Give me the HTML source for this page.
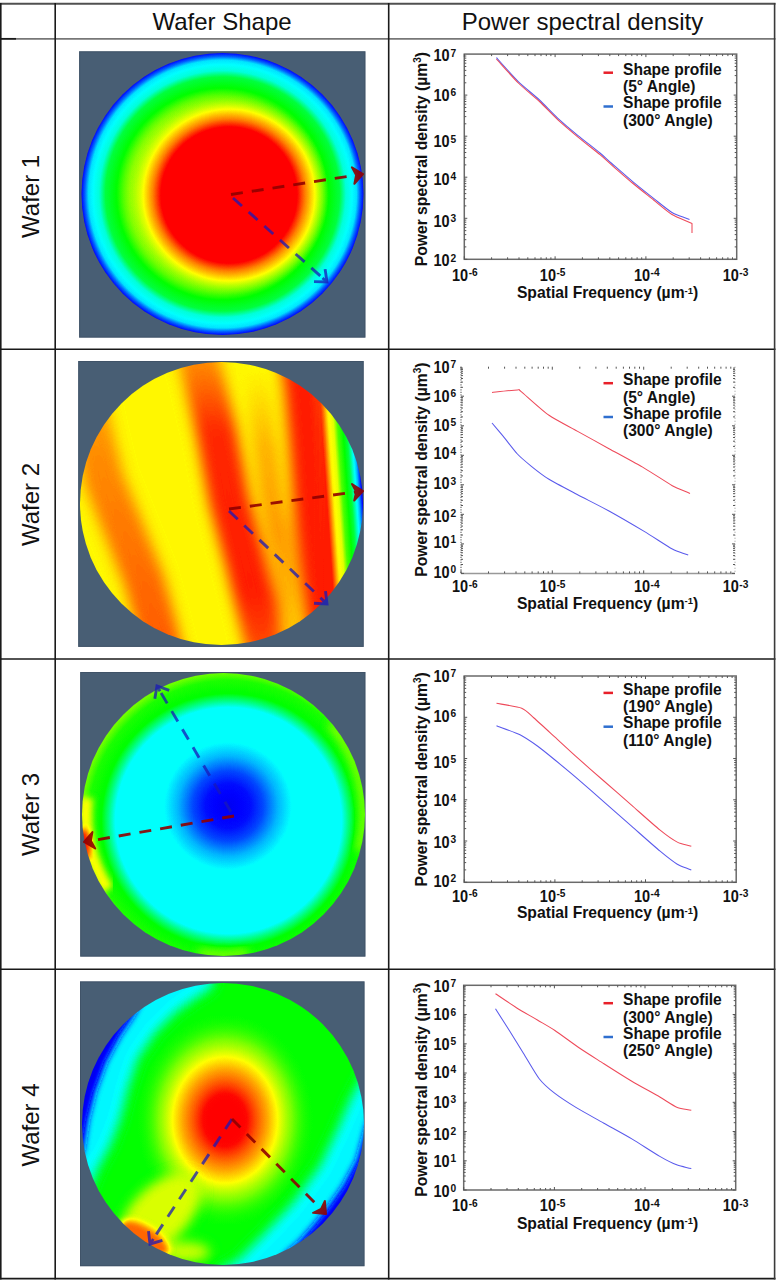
<!DOCTYPE html>
<html><head><meta charset="utf-8"><title>Wafer shape and PSD</title>
<style>html,body{margin:0;padding:0;background:#fff}svg{display:block}</style></head>
<body><svg width="778" height="1280" viewBox="0 0 778 1280" font-family='"Liberation Sans", sans-serif' fill="#111">
<defs><radialGradient id="f1" gradientUnits="userSpaceOnUse" cx="222.5" cy="194" r="141" ><stop offset="0.0000" stop-color="rgb(178,178,178)"/><stop offset="0.6000" stop-color="rgb(173,173,173)"/><stop offset="0.7000" stop-color="rgb(145,145,145)"/><stop offset="0.7500" stop-color="rgb(128,128,128)"/><stop offset="0.8300" stop-color="rgb(115,115,115)"/><stop offset="0.8750" stop-color="rgb(84,84,84)"/><stop offset="0.9500" stop-color="rgb(71,71,71)"/><stop offset="0.9750" stop-color="rgb(46,46,46)"/><stop offset="1.0000" stop-color="rgb(26,26,26)"/></radialGradient><radialGradient id="f1b" gradientUnits="userSpaceOnUse" cx="229" cy="195" r="100" ><stop offset="0.0000" stop-color="rgb(235,235,235)" stop-opacity="1"/><stop offset="0.6800" stop-color="rgb(230,230,230)" stop-opacity="1"/><stop offset="0.7600" stop-color="rgb(204,204,204)" stop-opacity="1"/><stop offset="0.8600" stop-color="rgb(178,178,178)" stop-opacity="1"/><stop offset="0.9300" stop-color="rgb(161,161,161)" stop-opacity="0.6"/><stop offset="1.0000" stop-color="rgb(145,145,145)" stop-opacity="0"/></radialGradient><filter id="jet1" x="0" y="0" width="1" height="1" color-interpolation-filters="sRGB"><feComponentTransfer><feFuncR type="table" tableValues="0 0 0 0 0 0 0.5 1 1 1 1"/><feFuncG type="table" tableValues="0 0 0.5 1 1 1 1 1 0.5 0 0"/><feFuncB type="table" tableValues="0.6 1 1 1 0.5 0 0 0 0 0 0"/></feComponentTransfer></filter><clipPath id="clip1"><circle cx="222.5" cy="194" r="141"/></clipPath><linearGradient id="f2" gradientUnits="userSpaceOnUse" x1="80" y1="503" x2="356.9110764430577" y2="458.69422776911074"><stop offset="0.0000" stop-color="rgb(191,191,191)"/><stop offset="0.0423" stop-color="rgb(199,199,199)"/><stop offset="0.0880" stop-color="rgb(204,204,204)"/><stop offset="0.1585" stop-color="rgb(204,204,204)"/><stop offset="0.1972" stop-color="rgb(196,196,196)"/><stop offset="0.2324" stop-color="rgb(184,184,184)"/><stop offset="0.2535" stop-color="rgb(178,178,178)"/><stop offset="0.3239" stop-color="rgb(178,178,178)"/><stop offset="0.4155" stop-color="rgb(181,181,181)"/><stop offset="0.4577" stop-color="rgb(204,204,204)"/><stop offset="0.5070" stop-color="rgb(224,224,224)"/><stop offset="0.5634" stop-color="rgb(222,222,222)"/><stop offset="0.6127" stop-color="rgb(201,201,201)"/><stop offset="0.6620" stop-color="rgb(190,190,190)"/><stop offset="0.7113" stop-color="rgb(199,199,199)"/><stop offset="0.7676" stop-color="rgb(219,219,219)"/><stop offset="0.8345" stop-color="rgb(224,224,224)"/><stop offset="1.0000" stop-color="rgb(224,224,224)"/></linearGradient><linearGradient id="f2r" gradientUnits="userSpaceOnUse" x1="304" y1="503" x2="363.70743357548014" y2="498.8204796497164"><stop offset="0.0000" stop-color="rgb(224,224,224)"/><stop offset="0.3833" stop-color="rgb(224,224,224)"/><stop offset="0.4500" stop-color="rgb(199,199,199)"/><stop offset="0.5000" stop-color="rgb(181,181,181)"/><stop offset="0.5833" stop-color="rgb(173,173,173)"/><stop offset="0.6500" stop-color="rgb(143,143,143)"/><stop offset="0.7333" stop-color="rgb(128,128,128)"/><stop offset="0.8000" stop-color="rgb(115,115,115)"/><stop offset="0.8667" stop-color="rgb(82,82,82)"/><stop offset="0.9167" stop-color="rgb(64,64,64)"/><stop offset="0.9667" stop-color="rgb(31,31,31)"/><stop offset="1.0167" stop-color="rgb(13,13,13)"/></linearGradient><linearGradient id="m2rg" gradientUnits="userSpaceOnUse" x1="312" y1="0" x2="326" y2="0"><stop offset="0" stop-color="#000"/><stop offset="1" stop-color="#fff"/></linearGradient><mask id="m2r" maskUnits="userSpaceOnUse" x="300" y="350" width="90" height="310"><rect x="300" y="350" width="90" height="310" fill="url(#m2rg)"/></mask><linearGradient id="g2A" gradientUnits="userSpaceOnUse" x1="0" y1="360" x2="0" y2="650"><stop offset="0.000" stop-color="rgb(196,196,196)"/><stop offset="0.500" stop-color="rgb(204,204,204)"/><stop offset="1.000" stop-color="rgb(212,212,212)"/></linearGradient><linearGradient id="g2C" gradientUnits="userSpaceOnUse" x1="0" y1="360" x2="0" y2="650"><stop offset="0.000" stop-color="rgb(201,201,201)"/><stop offset="0.250" stop-color="rgb(222,222,222)"/><stop offset="0.800" stop-color="rgb(224,224,224)"/><stop offset="1.000" stop-color="rgb(214,214,214)"/></linearGradient><linearGradient id="g2D" gradientUnits="userSpaceOnUse" x1="0" y1="360" x2="0" y2="650"><stop offset="0.000" stop-color="rgb(178,178,178)"/><stop offset="0.300" stop-color="rgb(194,194,194)"/><stop offset="0.600" stop-color="rgb(199,199,199)"/><stop offset="1.000" stop-color="rgb(189,189,189)"/></linearGradient><filter id="blur7" x="-30%" y="-30%" width="160%" height="160%"><feGaussianBlur stdDeviation="7"/></filter><filter id="blur3" x="-20%" y="-20%" width="140%" height="140%"><feGaussianBlur stdDeviation="3"/></filter><filter id="blur6" x="-30%" y="-30%" width="160%" height="160%"><feGaussianBlur stdDeviation="6"/></filter><filter id="blur10" x="-30%" y="-30%" width="160%" height="160%"><feGaussianBlur stdDeviation="10"/></filter><filter id="jet2" x="0" y="0" width="1" height="1" color-interpolation-filters="sRGB"><feComponentTransfer><feFuncR type="table" tableValues="0 0 0 0 0 0 0.5 1 1 1 1"/><feFuncG type="table" tableValues="0 0 0.5 1 1 1 1 1 0.5 0 0"/><feFuncB type="table" tableValues="0.6 1 1 1 0.5 0 0 0 0 0 0"/></feComponentTransfer></filter><clipPath id="clip2"><circle cx="221.5" cy="503.5" r="141.5"/></clipPath><radialGradient id="f3rim" gradientUnits="userSpaceOnUse" cx="228.5" cy="820.5" r="148">
<stop offset="0" stop-color="rgb(77,77,77)"/>
<stop offset="0.765" stop-color="rgb(77,77,77)"/>
<stop offset="0.81" stop-color="rgb(102,102,102)"/>
<stop offset="0.858" stop-color="rgb(127,127,127)"/>
<stop offset="0.946" stop-color="rgb(133,133,133)"/>
<stop offset="1" stop-color="rgb(150,150,150)"/>
</radialGradient><radialGradient id="f3c" gradientUnits="userSpaceOnUse" cx="228" cy="806" r="64">
<stop offset="0" stop-color="rgb(22,22,22)"/>
<stop offset="0.35" stop-color="rgb(28,28,28)"/>
<stop offset="0.55" stop-color="rgb(40,40,40)"/>
<stop offset="0.78" stop-color="rgb(62,62,62)"/>
<stop offset="1" stop-color="rgb(77,77,77)"/>
</radialGradient><filter id="jet3" x="0" y="0" width="1" height="1" color-interpolation-filters="sRGB"><feComponentTransfer><feFuncR type="table" tableValues="0 0 0 0 0 0 0.5 1 1 1 1"/><feFuncG type="table" tableValues="0 0 0.5 1 1 1 1 1 0.5 0 0"/><feFuncB type="table" tableValues="0.6 1 1 1 0.5 0 0 0 0 0 0"/></feComponentTransfer></filter><clipPath id="clip3"><circle cx="223.5" cy="814.5" r="141.5"/></clipPath><radialGradient id="f4c" gradientUnits="userSpaceOnUse" cx="225" cy="1120" r="88" gradientTransform="translate(225 1120) scale(1 1.2) translate(-225 -1120)">
<stop offset="0" stop-color="rgb(235,235,235)"/>
<stop offset="0.25" stop-color="rgb(228,228,228)"/>
<stop offset="0.36" stop-color="rgb(212,212,212)"/>
<stop offset="0.48" stop-color="rgb(196,196,196)"/>
<stop offset="0.60" stop-color="rgb(178,178,178)"/>
<stop offset="0.76" stop-color="rgb(156,156,156)" stop-opacity="0.85"/>
<stop offset="0.92" stop-color="rgb(140,140,140)" stop-opacity="0.3"/>
<stop offset="1" stop-color="rgb(135,135,135)" stop-opacity="0"/>
</radialGradient><filter id="blur8" x="-30%" y="-30%" width="160%" height="160%"><feGaussianBlur stdDeviation="8"/></filter><filter id="blur4" x="-30%" y="-30%" width="160%" height="160%"><feGaussianBlur stdDeviation="4"/></filter><filter id="jet4" x="0" y="0" width="1" height="1" color-interpolation-filters="sRGB"><feComponentTransfer><feFuncR type="table" tableValues="0 0 0 0 0 0 0.5 1 1 1 1"/><feFuncG type="table" tableValues="0 0 0.5 1 1 1 1 1 0.5 0 0"/><feFuncB type="table" tableValues="0.6 1 1 1 0.5 0 0 0 0 0 0"/></feComponentTransfer></filter><clipPath id="clip4"><circle cx="223" cy="1124" r="141"/></clipPath></defs>
<rect x="79.1" y="51.3" width="286.3" height="286.3" fill="#485e74"/><rect x="79.6" y="51.8" width="285.3" height="285.3" fill="none" stroke="#3c4c60" stroke-width="1" opacity="0.6"/><g clip-path="url(#clip1)"><g filter="url(#jet1)"><rect x="70" y="40" width="310" height="310" fill="url(#f1)"/><circle cx="229" cy="195" r="100" fill="url(#f1b)"/></g></g><g opacity="0.9"><line x1="231" y1="194.5" x2="360.0" y2="174.5" stroke="rgb(145,0,0)" stroke-width="2.9" stroke-dasharray="12 9"/><path d="M354.4,183.8 L363,174 L351.9,167.3 L356.1,175.1 Z" fill="rgb(145,0,0)" stroke="rgb(145,0,0)" stroke-width="2" stroke-linejoin="round"/></g><g opacity="0.75"><line x1="233" y1="198" x2="324.8" y2="280.0" stroke="rgb(25,25,185)" stroke-width="2.9" stroke-dasharray="12 9"/><polyline points="314.0,281.6 327,282 325.1,269.1" fill="none" stroke="rgb(25,25,185)" stroke-width="2.9" stroke-linejoin="miter"/><line x1="322.5" y1="278.0" x2="325.9" y2="281.0" stroke="rgb(25,25,185)" stroke-width="2.9"/></g><rect x="78.2" y="361" width="285.5" height="285.9" fill="#485e74"/><rect x="78.7" y="361.5" width="284.5" height="284.9" fill="none" stroke="#3c4c60" stroke-width="1" opacity="0.6"/><g clip-path="url(#clip2)"><g filter="url(#jet2)"><rect x="70" y="350" width="310" height="310" fill="rgb(180,180,180)"/><g filter="url(#blur7)"><path d="M82,380 L92,430 L104,480 L124,530 L144,580 L155,620 L165,660" stroke="url(#g2A)" stroke-width="40" fill="none"/><path d="M195,345 L204,380 L216,430 L229,500 L245,560 L262,630 L268,660" stroke="url(#g2C)" stroke-width="40" fill="none"/><path d="M256,345 L262,420 L272,500 L284,560 L292,640" stroke="url(#g2D)" stroke-width="24" fill="none"/><path d="M298,345 L304,390 L309,450 L314,520 L321,580 L330,650" stroke="rgb(224,224,224)" stroke-width="38" fill="none"/></g><rect x="300" y="350" width="90" height="310" fill="url(#f2r)" mask="url(#m2r)"/></g></g><g opacity="0.9"><line x1="229" y1="509" x2="360.0" y2="491.4" stroke="rgb(145,0,0)" stroke-width="2.9" stroke-dasharray="12 9"/><path d="M354.2,500.6 L363,491 L352.0,484.0 L356.1,491.9 Z" fill="rgb(145,0,0)" stroke="rgb(145,0,0)" stroke-width="2" stroke-linejoin="round"/></g><g opacity="0.75"><line x1="229" y1="511" x2="324.8" y2="601.9" stroke="rgb(25,25,185)" stroke-width="2.9" stroke-dasharray="12 9"/><polyline points="314.0,603.2 327,604 325.5,591.1" fill="none" stroke="rgb(25,25,185)" stroke-width="2.9" stroke-linejoin="miter"/><line x1="322.6" y1="599.9" x2="325.9" y2="603.0" stroke="rgb(25,25,185)" stroke-width="2.9"/></g><rect x="80.2" y="672" width="285.2" height="284.6" fill="#485e74"/><rect x="80.7" y="672.5" width="284.2" height="283.6" fill="none" stroke="#3c4c60" stroke-width="1" opacity="0.6"/><g clip-path="url(#clip3)"><g filter="url(#jet3)"><rect x="70" y="660" width="310" height="310" fill="url(#f3rim)"/><circle cx="228" cy="806" r="64" fill="url(#f3c)"/><g filter="url(#blur3)"><path d="M107.8,889.7 A138,138 0 0 1 86.5,797.7" stroke="rgb(178,178,178)" stroke-width="13" fill="none"/></g><g filter="url(#blur4)"><path d="M330.7,724.5 A140,140 0 0 1 358.7,850.7" stroke="rgb(161,161,161)" stroke-width="6" fill="none"/><path d="M247.8,952.4 A140,140 0 0 1 199.2,952.4" stroke="rgb(161,161,161)" stroke-width="6" fill="none"/></g><g filter="url(#blur3)"><ellipse cx="83" cy="846" rx="7" ry="17" fill="rgb(230,230,230)"/></g></g></g><g opacity="0.75"><line x1="231" y1="812" x2="158.5" y2="688.6" stroke="rgb(25,25,185)" stroke-width="2.9" stroke-dasharray="12 9"/><polyline points="169.2,690.4 157,686 154.8,698.8" fill="none" stroke="rgb(25,25,185)" stroke-width="2.9" stroke-linejoin="miter"/><line x1="160.0" y1="691.2" x2="157.8" y2="687.3" stroke="rgb(25,25,185)" stroke-width="2.9"/></g><g opacity="0.9"><line x1="234" y1="816" x2="87.0" y2="841.5" stroke="rgb(145,0,0)" stroke-width="2.9" stroke-dasharray="12 9"/><path d="M92.4,832.1 L84,842 L95.2,848.5 L90.9,840.8 Z" fill="rgb(145,0,0)" stroke="rgb(145,0,0)" stroke-width="2" stroke-linejoin="round"/></g><rect x="80" y="981.4" width="284.5" height="284.8" fill="#485e74"/><rect x="80.5" y="981.9" width="283.5" height="283.8" fill="none" stroke="#3c4c60" stroke-width="1" opacity="0.6"/><g clip-path="url(#clip4)"><g filter="url(#jet4)"><rect x="70" y="970" width="310" height="310" fill="rgb(128,128,128)"/><g filter="url(#blur6)"><path d="M88.0,1192.0 L98.0,1168.0 L110.0,1146.0 L120.0,1120.0 L128.0,1088.0 L138.0,1058.0 L156.0,1032.0 L176.0,1012.0 L196.0,998.0 L212.0,988.0 L216.9,949.1 L187.1,952.7 L158.4,961.4 L131.6,974.8 L107.4,992.6 L86.7,1014.3 L69.9,1039.2 L57.7,1066.5 L50.3,1095.6 L48.0,1125.5 L50.8,1155.4 L58.7,1184.3 L71.4,1211.5 Z" fill="rgb(76,76,76)"/><path d="M366.0,1070.0 L350.0,1100.0 L338.0,1128.0 L320.0,1166.0 L292.0,1204.0 L262.0,1236.0 L238.0,1260.0 L215.0,1272.0 L238.3,1298.3 L267.1,1293.4 L294.6,1283.7 L320.2,1269.5 L343.1,1251.3 L362.6,1229.5 L378.2,1204.8 L389.5,1177.8 L396.2,1149.4 L398.0,1120.2 L394.9,1091.1 L387.0,1063.0 L374.6,1036.5 Z" fill="rgb(76,76,76)"/></g><ellipse cx="225" cy="1120" rx="90" ry="108" fill="url(#f4c)"/><g filter="url(#blur6)"><ellipse cx="160" cy="1214" rx="50" ry="28" fill="rgb(171,171,171)" transform="rotate(-45 160 1214)"/><ellipse cx="185" cy="1252" rx="25" ry="10" fill="rgb(168,168,168)"/></g><g filter="url(#blur3)"><path d="M83.0,1152.0 L88.0,1120.0 L95.0,1092.0 L106.0,1062.0 L120.0,1036.0 L134.0,1015.0 L163.1,959.6 L142.2,968.8 L122.6,980.6 L104.8,995.0 L88.9,1011.5 L75.4,1030.0 L64.4,1050.0 L56.1,1071.4 L50.7,1093.6 L48.2,1116.4 L48.7,1139.3 L52.1,1161.9 L58.6,1183.9 Z" fill="rgb(20,20,20)"/><path d="M368.0,1120.0 L357.0,1160.0 L343.0,1186.0 L329.0,1206.0 L313.0,1226.0 L299.0,1242.0 L285.0,1254.0 L268.3,1293.0 L286.4,1287.1 L303.8,1279.2 L320.2,1269.5 L335.5,1258.1 L349.4,1245.0 L361.8,1230.5 L372.6,1214.8 L381.6,1198.0 L388.7,1180.3 L393.9,1161.9 L397.0,1143.1 L398.0,1124.0 Z" fill="rgb(20,20,20)"/><ellipse cx="145" cy="1238" rx="28" ry="11" fill="rgb(209,209,209)" transform="rotate(33 145 1238)"/></g></g></g><g opacity="0.75"><line x1="232" y1="1119" x2="151.6" y2="1241.5" stroke="rgb(25,25,185)" stroke-width="2.9" stroke-dasharray="12 9"/><polyline points="148.5,1231.1 150,1244 162.4,1240.3" fill="none" stroke="rgb(25,25,185)" stroke-width="2.9" stroke-linejoin="miter"/><line x1="153.3" y1="1239.0" x2="150.8" y2="1242.7" stroke="rgb(25,25,185)" stroke-width="2.9"/></g><g opacity="0.9"><line x1="232" y1="1119" x2="323.9" y2="1211.9" stroke="rgb(145,0,0)" stroke-width="2.9" stroke-dasharray="12 9"/><path d="M313.1,1212.8 L326,1214 L324.9,1201.0 L321.1,1209.0 Z" fill="rgb(145,0,0)" stroke="rgb(145,0,0)" stroke-width="2" stroke-linejoin="round"/></g><rect x="464.3" y="54.1" width="272.40000000000003" height="205.20000000000002" fill="none" stroke="#6a6a6a" stroke-width="1.5"/><path d="M464.3,259.3v-3M464.3,54.1v3M491.6,259.3v-2M491.6,54.1v2M507.6,259.3v-2M507.6,54.1v2M519.0,259.3v-2M519.0,54.1v2M527.8,259.3v-2M527.8,54.1v2M535.0,259.3v-2M535.0,54.1v2M541.0,259.3v-2M541.0,54.1v2M546.3,259.3v-2M546.3,54.1v2M550.9,259.3v-2M550.9,54.1v2M555.1,259.3v-3M555.1,54.1v3M582.4,259.3v-2M582.4,54.1v2M598.4,259.3v-2M598.4,54.1v2M609.8,259.3v-2M609.8,54.1v2M618.6,259.3v-2M618.6,54.1v2M625.8,259.3v-2M625.8,54.1v2M631.8,259.3v-2M631.8,54.1v2M637.1,259.3v-2M637.1,54.1v2M641.7,259.3v-2M641.7,54.1v2M645.9,259.3v-3M645.9,54.1v3M673.2,259.3v-2M673.2,54.1v2M689.2,259.3v-2M689.2,54.1v2M700.6,259.3v-2M700.6,54.1v2M709.4,259.3v-2M709.4,54.1v2M716.6,259.3v-2M716.6,54.1v2M722.6,259.3v-2M722.6,54.1v2M727.9,259.3v-2M727.9,54.1v2M732.5,259.3v-2M732.5,54.1v2M464.3,259.3h3M736.7,259.3h-3M464.3,246.9h2M736.7,246.9h-2M464.3,239.7h2M736.7,239.7h-2M464.3,234.6h2M736.7,234.6h-2M464.3,230.6h2M736.7,230.6h-2M464.3,227.4h2M736.7,227.4h-2M464.3,224.6h2M736.7,224.6h-2M464.3,222.2h2M736.7,222.2h-2M464.3,220.1h2M736.7,220.1h-2M464.3,218.3h3M736.7,218.3h-3M464.3,205.9h2M736.7,205.9h-2M464.3,198.7h2M736.7,198.7h-2M464.3,193.6h2M736.7,193.6h-2M464.3,189.6h2M736.7,189.6h-2M464.3,186.3h2M736.7,186.3h-2M464.3,183.6h2M736.7,183.6h-2M464.3,181.2h2M736.7,181.2h-2M464.3,179.1h2M736.7,179.1h-2M464.3,177.2h3M736.7,177.2h-3M464.3,164.9h2M736.7,164.9h-2M464.3,157.6h2M736.7,157.6h-2M464.3,152.5h2M736.7,152.5h-2M464.3,148.5h2M736.7,148.5h-2M464.3,145.3h2M736.7,145.3h-2M464.3,142.5h2M736.7,142.5h-2M464.3,140.2h2M736.7,140.2h-2M464.3,138.1h2M736.7,138.1h-2M464.3,136.2h3M736.7,136.2h-3M464.3,123.8h2M736.7,123.8h-2M464.3,116.6h2M736.7,116.6h-2M464.3,111.5h2M736.7,111.5h-2M464.3,107.5h2M736.7,107.5h-2M464.3,104.2h2M736.7,104.2h-2M464.3,101.5h2M736.7,101.5h-2M464.3,99.1h2M736.7,99.1h-2M464.3,97.0h2M736.7,97.0h-2M464.3,95.1h3M736.7,95.1h-3M464.3,82.8h2M736.7,82.8h-2M464.3,75.6h2M736.7,75.6h-2M464.3,70.4h2M736.7,70.4h-2M464.3,66.5h2M736.7,66.5h-2M464.3,63.2h2M736.7,63.2h-2M464.3,60.5h2M736.7,60.5h-2M464.3,58.1h2M736.7,58.1h-2M464.3,56.0h2M736.7,56.0h-2" stroke="#555" stroke-width="1"/><text transform="translate(456.3,266.2) scale(1,1.1)" text-anchor="end" font-weight="bold" font-size="14.5"><tspan>10</tspan><tspan font-size="10.2" dx="1" dy="-4.2">2</tspan></text><text transform="translate(456.3,226.8) scale(1,1.1)" text-anchor="end" font-weight="bold" font-size="14.5"><tspan>10</tspan><tspan font-size="10.2" dx="1" dy="-4.2">3</tspan></text><text transform="translate(456.3,184.7) scale(1,1.1)" text-anchor="end" font-weight="bold" font-size="14.5"><tspan>10</tspan><tspan font-size="10.2" dx="1" dy="-4.2">4</tspan></text><text transform="translate(456.3,147.2) scale(1,1.1)" text-anchor="end" font-weight="bold" font-size="14.5"><tspan>10</tspan><tspan font-size="10.2" dx="1" dy="-4.2">5</tspan></text><text transform="translate(456.3,101.1) scale(1,1.1)" text-anchor="end" font-weight="bold" font-size="14.5"><tspan>10</tspan><tspan font-size="10.2" dx="1" dy="-4.2">6</tspan></text><text transform="translate(456.3,61.2) scale(1,1.1)" text-anchor="end" font-weight="bold" font-size="14.5"><tspan>10</tspan><tspan font-size="10.2" dx="1" dy="-4.2">7</tspan></text><text transform="translate(464.9,280.9) scale(1,1.1)" text-anchor="middle" font-weight="bold" font-size="14.5"><tspan>10</tspan><tspan font-size="10.2" dx="0.5" dy="-4.2">-6</tspan></text><text transform="translate(552.7,280.9) scale(1,1.1)" text-anchor="middle" font-weight="bold" font-size="14.5"><tspan>10</tspan><tspan font-size="10.2" dx="0.5" dy="-4.2">-5</tspan></text><text transform="translate(646.8,280.9) scale(1,1.1)" text-anchor="middle" font-weight="bold" font-size="14.5"><tspan>10</tspan><tspan font-size="10.2" dx="0.5" dy="-4.2">-4</tspan></text><text transform="translate(735.5,280.9) scale(1,1.1)" text-anchor="middle" font-weight="bold" font-size="14.5"><tspan>10</tspan><tspan font-size="10.2" dx="0.5" dy="-4.2">-3</tspan></text><text x="607.6" y="298.2" text-anchor="middle" font-weight="bold" font-size="15.7">Spatial Frequency (µm<tspan font-size="9.5" dy="-4.5">-1</tspan><tspan dy="4.5">)</tspan></text><text transform="translate(426.8,159.2) rotate(-90)" text-anchor="middle" font-weight="bold" font-size="15.7">Power spectral density (µm<tspan font-size="10" dy="-5.5">3</tspan><tspan dy="5.5">)</tspan></text><path d="M496.4,57.6 C499.0,60.4 513.3,76.7 518.3,81.6 C523.3,86.5 534.9,95.7 539.5,100.0 C544.1,104.3 553.4,114.2 557.9,118.3 C562.4,122.4 572.8,131.3 577.7,135.3 C582.6,139.3 596.1,149.8 600.0,153.0 C603.9,156.2 607.4,159.7 611.2,163.0 C615.0,166.3 627.5,177.3 632.4,181.4 C637.3,185.5 649.0,194.8 653.6,198.4 C658.2,202.0 667.8,210.0 672.0,212.5 C676.2,215.0 683.7,217.2 689.5,219.6" fill="none" stroke="#5a5aec" stroke-width="1.05" stroke-linejoin="round"/><path d="M496.4,59.0 C499.0,61.8 513.3,78.0 518.3,83.0 C523.3,88.0 534.9,97.2 539.5,101.5 C544.1,105.8 553.4,115.7 557.9,119.8 C562.4,123.9 572.8,132.7 577.7,136.8 C582.6,140.9 596.1,151.4 600.0,154.6 C603.9,157.8 607.4,161.3 611.2,164.6 C615.0,167.9 627.5,178.9 632.4,183.0 C637.3,187.1 649.0,196.3 653.6,200.0 C658.2,203.7 667.5,211.8 672.0,214.5 C676.5,217.2 685.3,220.5 692.0,223.5 L692.0,233.0" fill="none" stroke="#ee4a5a" stroke-width="1.05" stroke-linejoin="round"/><line x1="603.5" y1="72.7" x2="613" y2="72.7" stroke="#e8202a" stroke-width="2.5"/><text x="623" y="74.7" font-weight="bold" font-size="15.6">Shape profile</text><text x="623" y="92.0" font-weight="bold" font-size="15.6">(5° Angle)</text><line x1="603.5" y1="106.5" x2="613" y2="106.5" stroke="#2f6fcf" stroke-width="2.5"/><text x="623" y="108.1" font-weight="bold" font-size="15.6">Shape profile</text><text x="623" y="125.7" font-weight="bold" font-size="15.6">(300° Angle)</text><line x1="461" y1="573.4" x2="735" y2="573.4" stroke="#999" stroke-width="1.5"/><line x1="461" y1="366.7" x2="461" y2="573.4" stroke="#777" stroke-width="1.3" stroke-dasharray="1.2 1.3"/><line x1="735" y1="366.7" x2="735" y2="573.4" stroke="#aaa" stroke-width="1.2" stroke-dasharray="1 2"/><path d="M461.0,573.4v-3M461.0,366.7v3M488.5,573.4v-2M488.5,366.7v2M504.6,573.4v-2M504.6,366.7v2M516.0,573.4v-2M516.0,366.7v2M524.8,573.4v-2M524.8,366.7v2M532.1,573.4v-2M532.1,366.7v2M538.2,573.4v-2M538.2,366.7v2M543.5,573.4v-2M543.5,366.7v2M548.2,573.4v-2M548.2,366.7v2M552.3,573.4v-3M552.3,366.7v3M579.8,573.4v-2M579.8,366.7v2M595.9,573.4v-2M595.9,366.7v2M607.3,573.4v-2M607.3,366.7v2M616.2,573.4v-2M616.2,366.7v2M623.4,573.4v-2M623.4,366.7v2M629.5,573.4v-2M629.5,366.7v2M634.8,573.4v-2M634.8,366.7v2M639.5,573.4v-2M639.5,366.7v2M643.7,573.4v-3M643.7,366.7v3M671.2,573.4v-2M671.2,366.7v2M687.2,573.4v-2M687.2,366.7v2M698.7,573.4v-2M698.7,366.7v2M707.5,573.4v-2M707.5,366.7v2M714.7,573.4v-2M714.7,366.7v2M720.9,573.4v-2M720.9,366.7v2M726.1,573.4v-2M726.1,366.7v2M730.8,573.4v-2M730.8,366.7v2M461,573.4h3M735,573.4h-3M461,564.5h2M735,564.5h-2M461,559.3h2M735,559.3h-2M461,555.6h2M735,555.6h-2M461,552.8h2M735,552.8h-2M461,550.4h2M735,550.4h-2M461,548.4h2M735,548.4h-2M461,546.7h2M735,546.7h-2M461,545.2h2M735,545.2h-2M461,543.9h3M735,543.9h-3M461,535.0h2M735,535.0h-2M461,529.8h2M735,529.8h-2M461,526.1h2M735,526.1h-2M461,523.2h2M735,523.2h-2M461,520.9h2M735,520.9h-2M461,518.9h2M735,518.9h-2M461,517.2h2M735,517.2h-2M461,515.7h2M735,515.7h-2M461,514.3h3M735,514.3h-3M461,505.5h2M735,505.5h-2M461,500.3h2M735,500.3h-2M461,496.6h2M735,496.6h-2M461,493.7h2M735,493.7h-2M461,491.4h2M735,491.4h-2M461,489.4h2M735,489.4h-2M461,487.7h2M735,487.7h-2M461,486.2h2M735,486.2h-2M461,484.8h3M735,484.8h-3M461,475.9h2M735,475.9h-2M461,470.7h2M735,470.7h-2M461,467.0h2M735,467.0h-2M461,464.2h2M735,464.2h-2M461,461.8h2M735,461.8h-2M461,459.9h2M735,459.9h-2M461,458.1h2M735,458.1h-2M461,456.6h2M735,456.6h-2M461,455.3h3M735,455.3h-3M461,446.4h2M735,446.4h-2M461,441.2h2M735,441.2h-2M461,437.5h2M735,437.5h-2M461,434.6h2M735,434.6h-2M461,432.3h2M735,432.3h-2M461,430.3h2M735,430.3h-2M461,428.6h2M735,428.6h-2M461,427.1h2M735,427.1h-2M461,425.8h3M735,425.8h-3M461,416.9h2M735,416.9h-2M461,411.7h2M735,411.7h-2M461,408.0h2M735,408.0h-2M461,405.1h2M735,405.1h-2M461,402.8h2M735,402.8h-2M461,400.8h2M735,400.8h-2M461,399.1h2M735,399.1h-2M461,397.6h2M735,397.6h-2M461,396.2h3M735,396.2h-3M461,387.3h2M735,387.3h-2M461,382.1h2M735,382.1h-2M461,378.5h2M735,378.5h-2M461,375.6h2M735,375.6h-2M461,373.3h2M735,373.3h-2M461,371.3h2M735,371.3h-2M461,369.6h2M735,369.6h-2M461,368.1h2M735,368.1h-2" stroke="#555" stroke-width="1"/><text transform="translate(456.3,578.1) scale(1,1.1)" text-anchor="end" font-weight="bold" font-size="14.5"><tspan>10</tspan><tspan font-size="10.2" dx="1" dy="-4.2">0</tspan></text><text transform="translate(456.3,548.1) scale(1,1.1)" text-anchor="end" font-weight="bold" font-size="14.5"><tspan>10</tspan><tspan font-size="10.2" dx="1" dy="-4.2">1</tspan></text><text transform="translate(456.3,521.5) scale(1,1.1)" text-anchor="end" font-weight="bold" font-size="14.5"><tspan>10</tspan><tspan font-size="10.2" dx="1" dy="-4.2">2</tspan></text><text transform="translate(456.3,489.2) scale(1,1.1)" text-anchor="end" font-weight="bold" font-size="14.5"><tspan>10</tspan><tspan font-size="10.2" dx="1" dy="-4.2">3</tspan></text><text transform="translate(456.3,459.4) scale(1,1.1)" text-anchor="end" font-weight="bold" font-size="14.5"><tspan>10</tspan><tspan font-size="10.2" dx="1" dy="-4.2">4</tspan></text><text transform="translate(456.3,431.0) scale(1,1.1)" text-anchor="end" font-weight="bold" font-size="14.5"><tspan>10</tspan><tspan font-size="10.2" dx="1" dy="-4.2">5</tspan></text><text transform="translate(456.3,401.8) scale(1,1.1)" text-anchor="end" font-weight="bold" font-size="14.5"><tspan>10</tspan><tspan font-size="10.2" dx="1" dy="-4.2">6</tspan></text><text transform="translate(456.3,373.0) scale(1,1.1)" text-anchor="end" font-weight="bold" font-size="14.5"><tspan>10</tspan><tspan font-size="10.2" dx="1" dy="-4.2">7</tspan></text><text transform="translate(464.9,592.4) scale(1,1.1)" text-anchor="middle" font-weight="bold" font-size="14.5"><tspan>10</tspan><tspan font-size="10.2" dx="0.5" dy="-4.2">-6</tspan></text><text transform="translate(552.7,592.4) scale(1,1.1)" text-anchor="middle" font-weight="bold" font-size="14.5"><tspan>10</tspan><tspan font-size="10.2" dx="0.5" dy="-4.2">-5</tspan></text><text transform="translate(646.8,592.4) scale(1,1.1)" text-anchor="middle" font-weight="bold" font-size="14.5"><tspan>10</tspan><tspan font-size="10.2" dx="0.5" dy="-4.2">-4</tspan></text><text transform="translate(735.5,592.4) scale(1,1.1)" text-anchor="middle" font-weight="bold" font-size="14.5"><tspan>10</tspan><tspan font-size="10.2" dx="0.5" dy="-4.2">-3</tspan></text><text x="607.6" y="608.7" text-anchor="middle" font-weight="bold" font-size="15.7">Spatial Frequency (µm<tspan font-size="9.5" dy="-4.5">-1</tspan><tspan dy="4.5">)</tspan></text><text transform="translate(426.8,469.7) rotate(-90)" text-anchor="middle" font-weight="bold" font-size="15.7">Power spectral density (µm<tspan font-size="10" dy="-5.5">3</tspan><tspan dy="5.5">)</tspan></text><path d="M492.0,392.4 C495.0,392.1 514.0,390.0 517.4,389.9 C520.8,389.8 517.2,388.3 520.9,391.3 C524.6,394.3 542.4,410.7 549.0,415.3 C555.6,419.9 570.2,427.2 577.2,431.1 C584.2,435.0 601.2,444.4 609.0,448.7 C616.8,453.0 636.8,463.8 644.2,468.1 C651.6,472.4 667.0,482.7 672.3,485.7 C677.6,488.7 684.1,490.8 690.0,493.4" fill="none" stroke="#ee4a5a" stroke-width="1.05" stroke-linejoin="round"/><path d="M492.0,423.0 C493.3,424.6 500.3,432.8 503.3,436.4 C506.3,440.0 514.1,450.5 517.4,454.0 C520.7,457.5 527.7,463.3 531.4,466.3 C535.1,469.3 543.7,476.0 549.0,479.3 C554.3,482.6 570.2,490.8 577.2,494.5 C584.2,498.2 601.2,506.7 609.0,511.0 C616.8,515.3 636.8,527.0 644.2,531.4 C651.6,535.8 667.2,546.2 672.3,549.0 C677.4,551.8 682.9,553.0 688.2,555.0" fill="none" stroke="#5a5aec" stroke-width="1.05" stroke-linejoin="round"/><line x1="603.5" y1="383.2" x2="613" y2="383.2" stroke="#e8202a" stroke-width="2.5"/><text x="623" y="385.2" font-weight="bold" font-size="15.6">Shape profile</text><text x="623" y="402.5" font-weight="bold" font-size="15.6">(5° Angle)</text><line x1="603.5" y1="417.0" x2="613" y2="417.0" stroke="#2f6fcf" stroke-width="2.5"/><text x="623" y="418.6" font-weight="bold" font-size="15.6">Shape profile</text><text x="623" y="436.2" font-weight="bold" font-size="15.6">(300° Angle)</text><rect x="464.2" y="676" width="272.00000000000006" height="206.29999999999995" fill="none" stroke="#6a6a6a" stroke-width="1.5"/><path d="M464.2,882.3v-3M464.2,676v3M491.5,882.3v-2M491.5,676v2M507.5,882.3v-2M507.5,676v2M518.8,882.3v-2M518.8,676v2M527.6,882.3v-2M527.6,676v2M534.8,882.3v-2M534.8,676v2M540.8,882.3v-2M540.8,676v2M546.1,882.3v-2M546.1,676v2M550.7,882.3v-2M550.7,676v2M554.9,882.3v-3M554.9,676v3M582.2,882.3v-2M582.2,676v2M598.1,882.3v-2M598.1,676v2M609.5,882.3v-2M609.5,676v2M618.2,882.3v-2M618.2,676v2M625.4,882.3v-2M625.4,676v2M631.5,882.3v-2M631.5,676v2M636.7,882.3v-2M636.7,676v2M641.4,882.3v-2M641.4,676v2M645.5,882.3v-3M645.5,676v3M672.8,882.3v-2M672.8,676v2M688.8,882.3v-2M688.8,676v2M700.1,882.3v-2M700.1,676v2M708.9,882.3v-2M708.9,676v2M716.1,882.3v-2M716.1,676v2M722.2,882.3v-2M722.2,676v2M727.4,882.3v-2M727.4,676v2M732.1,882.3v-2M732.1,676v2M464.2,882.3h3M736.2,882.3h-3M464.2,869.9h2M736.2,869.9h-2M464.2,862.6h2M736.2,862.6h-2M464.2,857.5h2M736.2,857.5h-2M464.2,853.5h2M736.2,853.5h-2M464.2,850.2h2M736.2,850.2h-2M464.2,847.4h2M736.2,847.4h-2M464.2,845.0h2M736.2,845.0h-2M464.2,842.9h2M736.2,842.9h-2M464.2,841.0h3M736.2,841.0h-3M464.2,828.6h2M736.2,828.6h-2M464.2,821.4h2M736.2,821.4h-2M464.2,816.2h2M736.2,816.2h-2M464.2,812.2h2M736.2,812.2h-2M464.2,808.9h2M736.2,808.9h-2M464.2,806.2h2M736.2,806.2h-2M464.2,803.8h2M736.2,803.8h-2M464.2,801.7h2M736.2,801.7h-2M464.2,799.8h3M736.2,799.8h-3M464.2,787.4h2M736.2,787.4h-2M464.2,780.1h2M736.2,780.1h-2M464.2,774.9h2M736.2,774.9h-2M464.2,770.9h2M736.2,770.9h-2M464.2,767.7h2M736.2,767.7h-2M464.2,764.9h2M736.2,764.9h-2M464.2,762.5h2M736.2,762.5h-2M464.2,760.4h2M736.2,760.4h-2M464.2,758.5h3M736.2,758.5h-3M464.2,746.1h2M736.2,746.1h-2M464.2,738.8h2M736.2,738.8h-2M464.2,733.7h2M736.2,733.7h-2M464.2,729.7h2M736.2,729.7h-2M464.2,726.4h2M736.2,726.4h-2M464.2,723.7h2M736.2,723.7h-2M464.2,721.3h2M736.2,721.3h-2M464.2,719.1h2M736.2,719.1h-2M464.2,717.3h3M736.2,717.3h-3M464.2,704.8h2M736.2,704.8h-2M464.2,697.6h2M736.2,697.6h-2M464.2,692.4h2M736.2,692.4h-2M464.2,688.4h2M736.2,688.4h-2M464.2,685.2h2M736.2,685.2h-2M464.2,682.4h2M736.2,682.4h-2M464.2,680.0h2M736.2,680.0h-2M464.2,677.9h2M736.2,677.9h-2" stroke="#555" stroke-width="1"/><text transform="translate(456.3,887.1) scale(1,1.1)" text-anchor="end" font-weight="bold" font-size="14.5"><tspan>10</tspan><tspan font-size="10.2" dx="1" dy="-4.2">2</tspan></text><text transform="translate(456.3,847.7) scale(1,1.1)" text-anchor="end" font-weight="bold" font-size="14.5"><tspan>10</tspan><tspan font-size="10.2" dx="1" dy="-4.2">3</tspan></text><text transform="translate(456.3,806.2) scale(1,1.1)" text-anchor="end" font-weight="bold" font-size="14.5"><tspan>10</tspan><tspan font-size="10.2" dx="1" dy="-4.2">4</tspan></text><text transform="translate(456.3,767.8) scale(1,1.1)" text-anchor="end" font-weight="bold" font-size="14.5"><tspan>10</tspan><tspan font-size="10.2" dx="1" dy="-4.2">5</tspan></text><text transform="translate(456.3,722.1) scale(1,1.1)" text-anchor="end" font-weight="bold" font-size="14.5"><tspan>10</tspan><tspan font-size="10.2" dx="1" dy="-4.2">6</tspan></text><text transform="translate(456.3,681.7) scale(1,1.1)" text-anchor="end" font-weight="bold" font-size="14.5"><tspan>10</tspan><tspan font-size="10.2" dx="1" dy="-4.2">7</tspan></text><text transform="translate(464.9,901.5) scale(1,1.1)" text-anchor="middle" font-weight="bold" font-size="14.5"><tspan>10</tspan><tspan font-size="10.2" dx="0.5" dy="-4.2">-6</tspan></text><text transform="translate(552.7,901.5) scale(1,1.1)" text-anchor="middle" font-weight="bold" font-size="14.5"><tspan>10</tspan><tspan font-size="10.2" dx="0.5" dy="-4.2">-5</tspan></text><text transform="translate(646.8,901.5) scale(1,1.1)" text-anchor="middle" font-weight="bold" font-size="14.5"><tspan>10</tspan><tspan font-size="10.2" dx="0.5" dy="-4.2">-4</tspan></text><text transform="translate(735.5,901.5) scale(1,1.1)" text-anchor="middle" font-weight="bold" font-size="14.5"><tspan>10</tspan><tspan font-size="10.2" dx="0.5" dy="-4.2">-3</tspan></text><text x="607.6" y="918.4" text-anchor="middle" font-weight="bold" font-size="15.7">Spatial Frequency (µm<tspan font-size="9.5" dy="-4.5">-1</tspan><tspan dy="4.5">)</tspan></text><text transform="translate(426.8,779.4) rotate(-90)" text-anchor="middle" font-weight="bold" font-size="15.7">Power spectral density (µm<tspan font-size="10" dy="-5.5">3</tspan><tspan dy="5.5">)</tspan></text><path d="M496.5,703.3 C499.4,703.9 517.3,706.5 521.7,708.2 C526.1,709.9 530.1,714.6 534.0,718.0 C537.9,721.4 550.1,732.7 555.0,737.2 C559.9,741.7 570.2,751.3 575.9,756.4 C581.6,761.5 597.4,775.3 603.9,781.0 C610.4,786.7 625.3,799.7 631.8,805.4 C638.3,811.1 654.5,825.6 659.8,829.9 C665.1,834.2 673.6,840.2 677.3,842.1 C681.0,844.0 686.6,844.9 691.3,846.3" fill="none" stroke="#ee4a5a" stroke-width="1.05" stroke-linejoin="round"/><path d="M496.5,725.7 C499.2,726.8 515.2,732.4 520.0,734.8 C524.8,737.2 533.3,743.1 537.4,746.0 C541.5,748.9 550.5,756.3 555.0,760.0 C559.5,763.7 570.2,772.5 575.9,777.4 C581.6,782.3 597.4,796.2 603.9,801.9 C610.4,807.6 625.3,820.7 631.8,826.4 C638.3,832.1 654.5,846.5 659.8,850.9 C665.1,855.3 673.6,862.0 677.3,864.2 C681.0,866.4 686.6,868.1 691.3,870.1" fill="none" stroke="#5a5aec" stroke-width="1.05" stroke-linejoin="round"/><line x1="603.5" y1="692.9" x2="613" y2="692.9" stroke="#e8202a" stroke-width="2.5"/><text x="623" y="694.9" font-weight="bold" font-size="15.6">Shape profile</text><text x="623" y="712.2" font-weight="bold" font-size="15.6">(190° Angle)</text><line x1="603.5" y1="726.7" x2="613" y2="726.7" stroke="#2f6fcf" stroke-width="2.5"/><text x="623" y="728.3" font-weight="bold" font-size="15.6">Shape profile</text><text x="623" y="745.9" font-weight="bold" font-size="15.6">(110° Angle)</text><rect x="463.7" y="985.3" width="272.00000000000006" height="204.70000000000005" fill="none" stroke="#6a6a6a" stroke-width="1.5"/><path d="M463.7,1190v-3M463.7,985.3v3M491.0,1190v-2M491.0,985.3v2M507.0,1190v-2M507.0,985.3v2M518.3,1190v-2M518.3,985.3v2M527.1,1190v-2M527.1,985.3v2M534.3,1190v-2M534.3,985.3v2M540.3,1190v-2M540.3,985.3v2M545.6,1190v-2M545.6,985.3v2M550.2,1190v-2M550.2,985.3v2M554.4,1190v-3M554.4,985.3v3M581.7,1190v-2M581.7,985.3v2M597.6,1190v-2M597.6,985.3v2M609.0,1190v-2M609.0,985.3v2M617.7,1190v-2M617.7,985.3v2M624.9,1190v-2M624.9,985.3v2M631.0,1190v-2M631.0,985.3v2M636.2,1190v-2M636.2,985.3v2M640.9,1190v-2M640.9,985.3v2M645.0,1190v-3M645.0,985.3v3M672.3,1190v-2M672.3,985.3v2M688.3,1190v-2M688.3,985.3v2M699.6,1190v-2M699.6,985.3v2M708.4,1190v-2M708.4,985.3v2M715.6,1190v-2M715.6,985.3v2M721.7,1190v-2M721.7,985.3v2M726.9,1190v-2M726.9,985.3v2M731.6,1190v-2M731.6,985.3v2M463.7,1190.0h3M735.7,1190.0h-3M463.7,1181.2h2M735.7,1181.2h-2M463.7,1176.0h2M735.7,1176.0h-2M463.7,1172.4h2M735.7,1172.4h-2M463.7,1169.6h2M735.7,1169.6h-2M463.7,1167.2h2M735.7,1167.2h-2M463.7,1165.3h2M735.7,1165.3h-2M463.7,1163.6h2M735.7,1163.6h-2M463.7,1162.1h2M735.7,1162.1h-2M463.7,1160.8h3M735.7,1160.8h-3M463.7,1152.0h2M735.7,1152.0h-2M463.7,1146.8h2M735.7,1146.8h-2M463.7,1143.2h2M735.7,1143.2h-2M463.7,1140.3h2M735.7,1140.3h-2M463.7,1138.0h2M735.7,1138.0h-2M463.7,1136.0h2M735.7,1136.0h-2M463.7,1134.3h2M735.7,1134.3h-2M463.7,1132.9h2M735.7,1132.9h-2M463.7,1131.5h3M735.7,1131.5h-3M463.7,1122.7h2M735.7,1122.7h-2M463.7,1117.6h2M735.7,1117.6h-2M463.7,1113.9h2M735.7,1113.9h-2M463.7,1111.1h2M735.7,1111.1h-2M463.7,1108.8h2M735.7,1108.8h-2M463.7,1106.8h2M735.7,1106.8h-2M463.7,1105.1h2M735.7,1105.1h-2M463.7,1103.6h2M735.7,1103.6h-2M463.7,1102.3h3M735.7,1102.3h-3M463.7,1093.5h2M735.7,1093.5h-2M463.7,1088.3h2M735.7,1088.3h-2M463.7,1084.7h2M735.7,1084.7h-2M463.7,1081.8h2M735.7,1081.8h-2M463.7,1079.5h2M735.7,1079.5h-2M463.7,1077.6h2M735.7,1077.6h-2M463.7,1075.9h2M735.7,1075.9h-2M463.7,1074.4h2M735.7,1074.4h-2M463.7,1073.0h3M735.7,1073.0h-3M463.7,1064.2h2M735.7,1064.2h-2M463.7,1059.1h2M735.7,1059.1h-2M463.7,1055.4h2M735.7,1055.4h-2M463.7,1052.6h2M735.7,1052.6h-2M463.7,1050.3h2M735.7,1050.3h-2M463.7,1048.3h2M735.7,1048.3h-2M463.7,1046.6h2M735.7,1046.6h-2M463.7,1045.1h2M735.7,1045.1h-2M463.7,1043.8h3M735.7,1043.8h-3M463.7,1035.0h2M735.7,1035.0h-2M463.7,1029.8h2M735.7,1029.8h-2M463.7,1026.2h2M735.7,1026.2h-2M463.7,1023.3h2M735.7,1023.3h-2M463.7,1021.0h2M735.7,1021.0h-2M463.7,1019.1h2M735.7,1019.1h-2M463.7,1017.4h2M735.7,1017.4h-2M463.7,1015.9h2M735.7,1015.9h-2M463.7,1014.5h3M735.7,1014.5h-3M463.7,1005.7h2M735.7,1005.7h-2M463.7,1000.6h2M735.7,1000.6h-2M463.7,996.9h2M735.7,996.9h-2M463.7,994.1h2M735.7,994.1h-2M463.7,991.8h2M735.7,991.8h-2M463.7,989.8h2M735.7,989.8h-2M463.7,988.1h2M735.7,988.1h-2M463.7,986.6h2M735.7,986.6h-2" stroke="#555" stroke-width="1"/><text transform="translate(456.3,1197.0) scale(1,1.1)" text-anchor="end" font-weight="bold" font-size="14.5"><tspan>10</tspan><tspan font-size="10.2" dx="1" dy="-4.2">0</tspan></text><text transform="translate(456.3,1166.7) scale(1,1.1)" text-anchor="end" font-weight="bold" font-size="14.5"><tspan>10</tspan><tspan font-size="10.2" dx="1" dy="-4.2">1</tspan></text><text transform="translate(456.3,1139.7) scale(1,1.1)" text-anchor="end" font-weight="bold" font-size="14.5"><tspan>10</tspan><tspan font-size="10.2" dx="1" dy="-4.2">2</tspan></text><text transform="translate(456.3,1107.6) scale(1,1.1)" text-anchor="end" font-weight="bold" font-size="14.5"><tspan>10</tspan><tspan font-size="10.2" dx="1" dy="-4.2">3</tspan></text><text transform="translate(456.3,1077.8) scale(1,1.1)" text-anchor="end" font-weight="bold" font-size="14.5"><tspan>10</tspan><tspan font-size="10.2" dx="1" dy="-4.2">4</tspan></text><text transform="translate(456.3,1049.5) scale(1,1.1)" text-anchor="end" font-weight="bold" font-size="14.5"><tspan>10</tspan><tspan font-size="10.2" dx="1" dy="-4.2">5</tspan></text><text transform="translate(456.3,1020.4) scale(1,1.1)" text-anchor="end" font-weight="bold" font-size="14.5"><tspan>10</tspan><tspan font-size="10.2" dx="1" dy="-4.2">6</tspan></text><text transform="translate(456.3,991.7) scale(1,1.1)" text-anchor="end" font-weight="bold" font-size="14.5"><tspan>10</tspan><tspan font-size="10.2" dx="1" dy="-4.2">7</tspan></text><text transform="translate(464.9,1211.2) scale(1,1.1)" text-anchor="middle" font-weight="bold" font-size="14.5"><tspan>10</tspan><tspan font-size="10.2" dx="0.5" dy="-4.2">-6</tspan></text><text transform="translate(552.7,1211.2) scale(1,1.1)" text-anchor="middle" font-weight="bold" font-size="14.5"><tspan>10</tspan><tspan font-size="10.2" dx="0.5" dy="-4.2">-5</tspan></text><text transform="translate(646.8,1211.2) scale(1,1.1)" text-anchor="middle" font-weight="bold" font-size="14.5"><tspan>10</tspan><tspan font-size="10.2" dx="0.5" dy="-4.2">-4</tspan></text><text transform="translate(735.5,1211.2) scale(1,1.1)" text-anchor="middle" font-weight="bold" font-size="14.5"><tspan>10</tspan><tspan font-size="10.2" dx="0.5" dy="-4.2">-3</tspan></text><text x="607.6" y="1228.7" text-anchor="middle" font-weight="bold" font-size="15.7">Spatial Frequency (µm<tspan font-size="9.5" dy="-4.5">-1</tspan><tspan dy="4.5">)</tspan></text><text transform="translate(426.8,1089.7) rotate(-90)" text-anchor="middle" font-weight="bold" font-size="15.7">Power spectral density (µm<tspan font-size="10" dy="-5.5">3</tspan><tspan dy="5.5">)</tspan></text><path d="M495.5,993.7 C497.9,995.3 511.5,1004.6 516.4,1007.7 C521.3,1010.8 532.9,1017.3 537.4,1020.0 C541.9,1022.7 550.0,1027.2 554.9,1030.5 C559.8,1033.8 573.7,1044.1 579.4,1048.0 C585.1,1051.9 597.8,1059.8 603.9,1063.7 C610.0,1067.6 625.3,1077.3 631.8,1081.2 C638.3,1085.1 654.5,1093.9 659.8,1097.0 C665.1,1100.1 673.6,1105.9 677.3,1107.4 C681.0,1108.9 686.6,1109.3 691.3,1110.2" fill="none" stroke="#ee4a5a" stroke-width="1.05" stroke-linejoin="round"/><path d="M495.5,1008.8 C497.1,1011.4 506.2,1025.6 509.5,1030.8 C512.8,1036.0 519.9,1047.6 523.4,1053.2 C526.9,1058.8 535.5,1074.0 539.2,1078.7 C542.9,1083.4 550.6,1090.1 554.9,1093.4 C559.2,1096.7 570.2,1103.9 575.9,1107.4 C581.6,1110.9 597.4,1119.5 603.9,1123.2 C610.4,1126.9 625.3,1135.0 631.8,1138.9 C638.3,1142.8 654.5,1153.3 659.8,1156.4 C665.1,1159.5 673.6,1163.7 677.3,1165.1 C681.0,1166.5 686.6,1167.4 691.3,1168.6" fill="none" stroke="#5a5aec" stroke-width="1.05" stroke-linejoin="round"/><line x1="603.5" y1="1003.2" x2="613" y2="1003.2" stroke="#e8202a" stroke-width="2.5"/><text x="623" y="1005.2" font-weight="bold" font-size="15.6">Shape profile</text><text x="623" y="1022.5" font-weight="bold" font-size="15.6">(300° Angle)</text><line x1="603.5" y1="1037.0" x2="613" y2="1037.0" stroke="#2f6fcf" stroke-width="2.5"/><text x="623" y="1038.6" font-weight="bold" font-size="15.6">Shape profile</text><text x="623" y="1056.2" font-weight="bold" font-size="15.6">(250° Angle)</text><line x1="0" y1="349.3" x2="775.5" y2="349.3" stroke="#1a1a1a" stroke-width="1.6"/><line x1="0" y1="659" x2="775.5" y2="659" stroke="#1a1a1a" stroke-width="1.6"/><line x1="0" y1="969.3" x2="775.5" y2="969.3" stroke="#1a1a1a" stroke-width="1.6"/><line x1="0" y1="1278.6" x2="775.5" y2="1278.6" stroke="#1a1a1a" stroke-width="1.6"/><line x1="0" y1="3.7" x2="775.5" y2="3.7" stroke="#505050" stroke-width="1.9"/><line x1="0" y1="38.8" x2="775.5" y2="38.8" stroke="#777777" stroke-width="1.7"/><line x1="0" y1="38.8" x2="16" y2="38.8" stroke="#1a1a1a" stroke-width="1.7"/><line x1="0.8" y1="3" x2="0.8" y2="1279.4" stroke="#1a1a1a" stroke-width="1.6"/><line x1="55.2" y1="3" x2="55.2" y2="1279.4" stroke="#1a1a1a" stroke-width="1.6"/><line x1="388.7" y1="3" x2="388.7" y2="1279.4" stroke="#1a1a1a" stroke-width="1.6"/><line x1="774.6" y1="3" x2="774.6" y2="1279.4" stroke="#3a3a3a" stroke-width="1.6"/><text x="222" y="29.5" text-anchor="middle" font-size="24">Wafer Shape</text><text x="582.5" y="29.5" text-anchor="middle" font-size="24">Power spectral density</text><text transform="translate(38.6,196.4) rotate(-90)" text-anchor="middle" font-size="24">Wafer 1</text><text transform="translate(38.6,504.5) rotate(-90)" text-anchor="middle" font-size="24">Wafer 2</text><text transform="translate(38.6,814.5) rotate(-90)" text-anchor="middle" font-size="24">Wafer 3</text><text transform="translate(38.6,1125) rotate(-90)" text-anchor="middle" font-size="24">Wafer 4</text>
</svg></body></html>
